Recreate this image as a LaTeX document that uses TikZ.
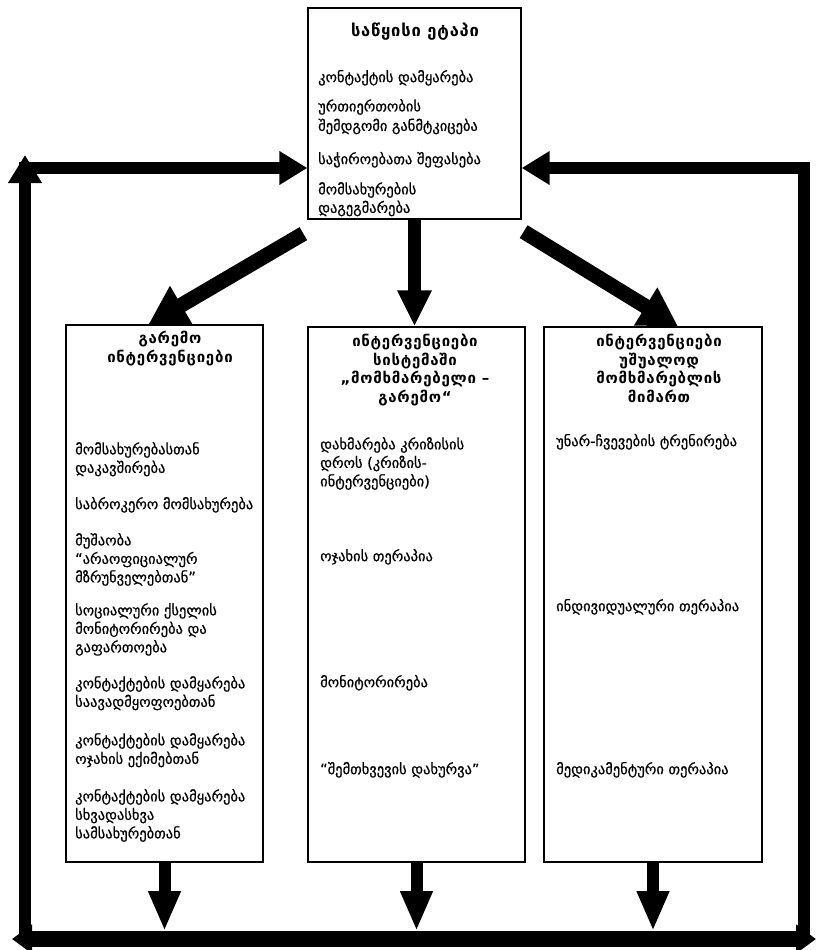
\documentclass[tikz,border=0pt]{standalone}
\usepackage{fontspec}
\setmainfont{DejaVu Sans}
\newfontfamily\bodyfam[FakeBold=0.6]{DejaVu Sans}
\newfontfamily\headfam[LetterSpace=5]{DejaVu Sans Bold}
\usetikzlibrary{arrows.meta}
\newcommand\itemfont{\bodyfam\fontsize{14.5}{18.5}\selectfont}
\newcommand\headfont{\headfam\fontsize{15}{18.5}\selectfont}
\tikzset{
  box/.style={draw, line width=1.3pt, inner sep=0pt, fill=white},
  item/.style={anchor=north west, inner sep=0pt, align=left, font=\itemfont, execute at begin node=\strut},
  head/.style={anchor=north, inner sep=0pt, align=center, font=\headfont, execute at begin node=\strut},
  fat/.style={line width=15pt, -{Triangle[width=42pt,length=38pt]}},
  midfat/.style={line width=13pt, -{Triangle[width=32pt,length=36pt]}},
  down/.style={line width=12pt, -{Triangle[width=30pt,length=40pt]}},
  loop/.style={line width=12pt, line join=miter, -{Triangle[width=32pt,length=28pt]}},
  bar/.style={line width=16pt, {Triangle[width=28pt,length=20pt]}-{Triangle[width=28pt,length=20pt]}}
}
\begin{document}
\begin{tikzpicture}[x=1pt,y=-1pt]
\useasboundingbox (0,0) rectangle (828,950);

% boxes
\node[box, minimum width=213pt, minimum height=211pt] (top) at (414.5,113.5) {};
\node[box, minimum width=197pt, minimum height=537pt] (L) at (164.5,593.5) {};
\node[box, minimum width=217pt, minimum height=535pt] (M) at (416.5,594.5) {};
\node[box, minimum width=218pt, minimum height=535pt] (R) at (653,594.5) {};

% helper coordinates
\coordinate (yl) at (0,168);
\coordinate (barT) at (0,931);
\coordinate (lb) at (25,936);
\coordinate (lt) at (25,155);
\coordinate (hl) at (19,168);
\coordinate (rb) at (804,936);
\coordinate (bl) at (12,939);
\coordinate (br) at (816,939);

% arrows from the initial stage
\draw[fat] ([shift={(-4,14)}]top.south west) -- ([xshift=-16pt]L.north);
\draw[midfat] (top.south) -- (top.south |- M.north);
\draw[fat] ([shift={(2,12)}]top.south east) -- ([xshift=25pt]R.north);

% arrows down to the feedback bar
\draw[down] (L.south) -- (L.south |- barT);
\draw[down] (M.south) -- (M.south |- barT);
\draw[down] (R.south) -- (R.south |- barT);

% feedback loop
\draw[bar] (bl) -- (br);
\draw[loop] (lb) -- (lt);
\draw[loop] (hl) -- (top.west |- yl);
\draw[loop] (rb) |- (top.east |- yl);

% initial stage
\node[head, anchor=center, font=\headfam\fontsize{16.5}{19}\selectfont] (th) at (415,33) {საწყისი ეტაპი};
\node[item] (t1) at (318,69) {კონტაქტის დამყარება};
\node[item, font=\bodyfam\fontsize{14.5}{19.5}\selectfont] (t2) at (318,99) {ურთიერთობის\\შემდგომი განმტკიცება};
\node[item] (t3) at (318,151) {საჭიროებათა შეფასება};
\node[item] (t4) at (318,182) {მომსახურების\\დაგეგმარება};

% environmental interventions
\node[head] (lh) at (170,331) {გარემო\\ინტერვენციები};
\node[item] (l1) at (75,442) {მომსახურებასთან\\დაკავშირება};
\node[item] (l2) at (75,496) {საბროკერო მომსახურება};
\node[item] (l3) at (75,533) {მუშაობა\\“არაოფიციალურ\\მზრუნველებთან”};
\node[item] (l4) at (75,603) {სოციალური ქსელის\\მონიტორირება და\\გაფართოება};
\node[item] (l5) at (75,676) {კონტაქტების დამყარება\\საავადმყოფოებთან};
\node[item] (l6) at (75,733) {კონტაქტების დამყარება\\ოჯახის ექიმებთან};
\node[item] (l7) at (75,789) {კონტაქტების დამყარება\\სხვადასხვა\\სამსახურებთან};

% client-environment system interventions
\node[head] (mh) at (415,334) {ინტერვენციები\\სისტემაში\\„მომხმარებელი –\\გარემო“};
\node[item] (m1) at (320,437) {დახმარება კრიზისის\\დროს (კრიზის-\\ინტერვენციები)};
\node[item] (m2) at (320,548) {ოჯახის თერაპია};
\node[item] (m3) at (320,674) {მონიტორირება};
\node[item] (m4) at (320,761) {“შემთხვევის დახურვა”};

% direct client interventions
\node[head] (rh) at (659,334) {ინტერვენციები\\უშუალოდ\\მომხმარებლის\\მიმართ};
\node[item] (r1) at (556,433) {უნარ-ჩვევების ტრენირება};
\node[item] (r2) at (556,598) {ინდივიდუალური თერაპია};
\node[item] (r3) at (556,761) {მედიკამენტური თერაპია};
\end{tikzpicture}
\end{document}
